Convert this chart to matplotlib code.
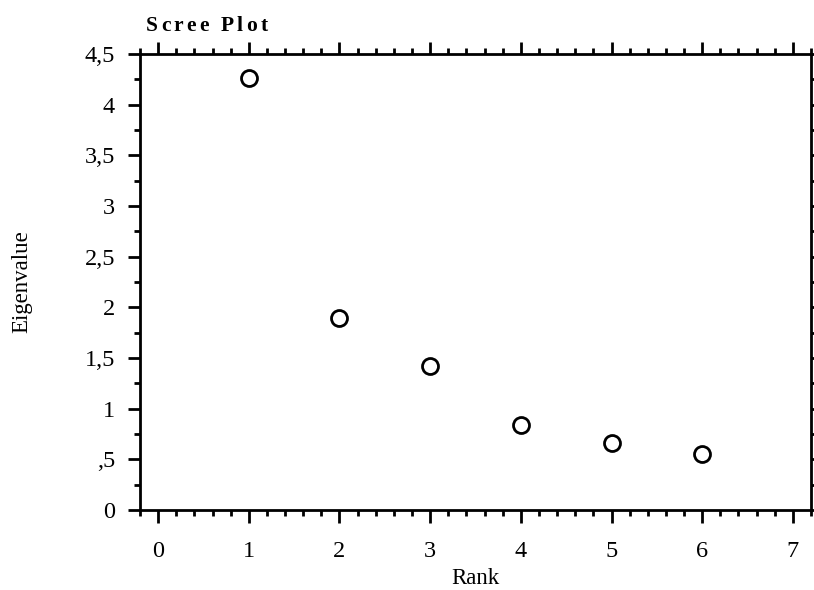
import matplotlib
matplotlib.use("Agg")
import matplotlib.pyplot as plt
from matplotlib.ticker import MultipleLocator, FixedLocator

rank = [1, 2, 3, 4, 5, 6]
eigenvalue = [4.26, 1.89, 1.42, 0.84, 0.66, 0.55]
yticks = [0, 0.5, 1, 1.5, 2, 2.5, 3, 3.5, 4, 4.5]
ytick_labels = ["0", ",5", "1", "1,5", "2", "2,5", "3", "3,5", "4", "4,5"]
xticks = [0, 1, 2, 3, 4, 5, 6, 7]
title_text = "Scree Plot"

plt.rcParams['font.family'] = ['Liberation Serif', 'DejaVu Serif']

W, H = 814, 590
fig = plt.figure(figsize=(W / 100, H / 100), dpi=100)
ax = fig.add_axes([140/W, 80/H, (811-140)/W, (510-54)/H])

ax.plot(rank, eigenvalue, linestyle='none', marker='o', markersize=11.5,
        markerfacecolor='white', markeredgecolor='black', markeredgewidth=2)

ax.set_xlim(-0.2, 7.2)
ax.set_ylim(0, 4.5)
ax.xaxis.set_major_locator(FixedLocator(xticks))
ax.xaxis.set_minor_locator(MultipleLocator(0.2))
ax.yaxis.set_major_locator(FixedLocator(yticks))
ax.yaxis.set_minor_locator(MultipleLocator(0.25))
ax.set_yticklabels(ytick_labels)

for s in ax.spines.values():
    s.set_linewidth(2)
ax.tick_params(which='both', direction='out', top=True, right=True, width=2,
               labelsize=17.5, pad=9)
ax.tick_params(which='major', length=9)
ax.tick_params(which='minor', length=4)
ax.tick_params(axis='x', which='major', pad=13)

ax.set_xlabel("Rank", fontsize=16.5, labelpad=5)
ax.set_ylabel("Eigenvalue", fontsize=16.5)
ax.yaxis.set_label_coords((32 - 140) / 671, 0.5)

# letter-spaced bold title
renderer = fig.canvas.get_renderer()
fs = 15.5
spacing = 3.2
x = 146.0
y_base = H - 31
for ch in title_text:
    if ch == " ":
        x += 0.25 * fs * 100 / 72 + spacing
        continue
    t = fig.text(x / W, y_base / H, ch, fontsize=fs, fontweight='bold',
                 va='baseline', ha='left')
    x += t.get_window_extent(renderer).width + spacing

fig.savefig("out.png", dpi=100)
